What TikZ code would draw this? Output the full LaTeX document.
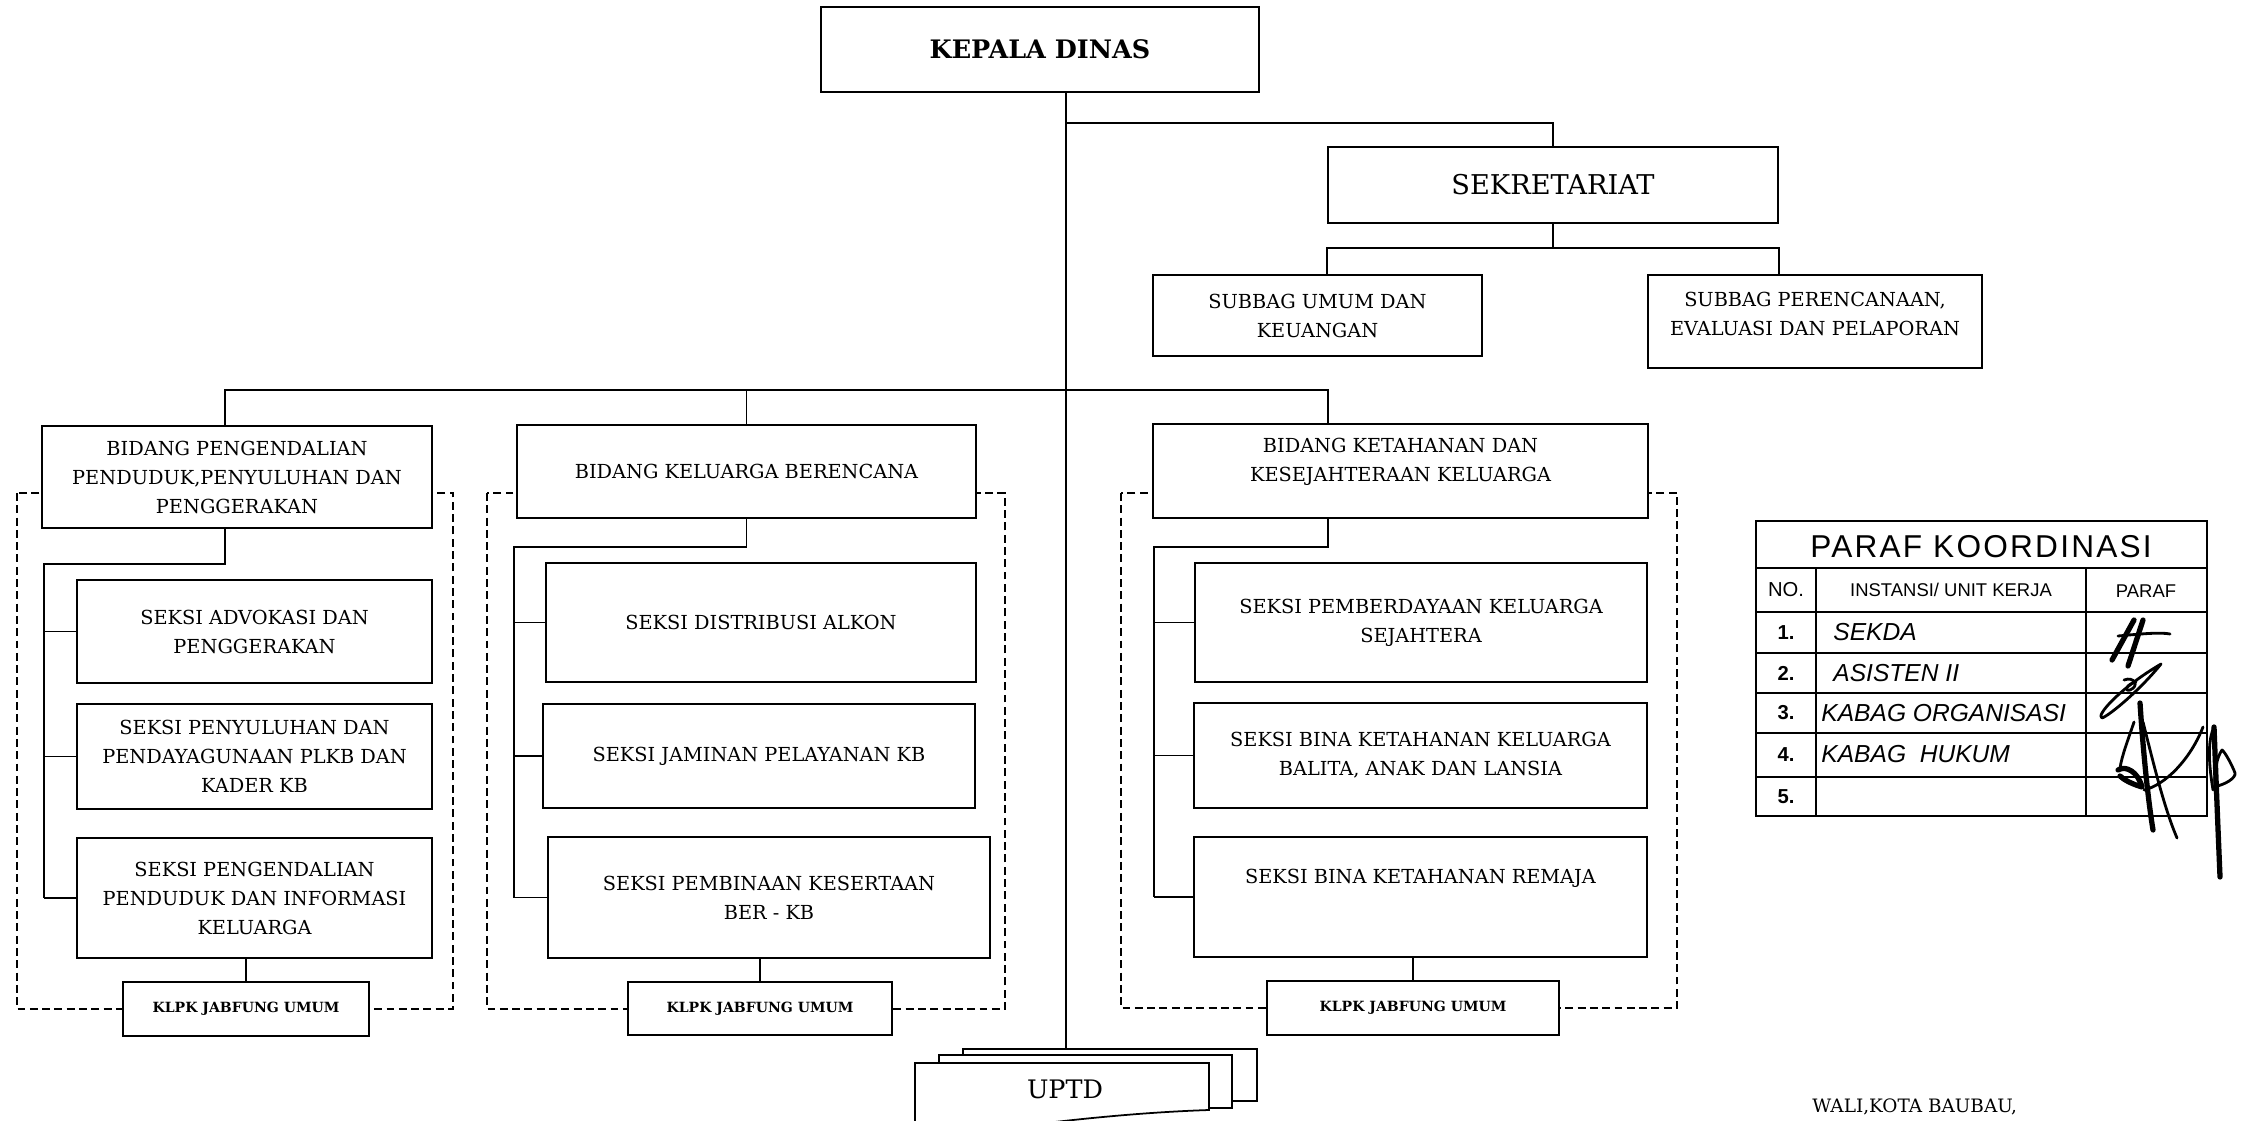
\documentclass[tikz,border=0pt]{standalone}
\usepackage{fontspec}
\setmainfont{DejaVu Serif}
\newfontfamily\tabfont{Liberation Sans}
\newfontfamily\titfont[LetterSpace=7]{Liberation Sans}
\usetikzlibrary{calc}
\tikzset{
  wh/.style 2 args={minimum width=#1*0.02cm,minimum height=#2*0.02cm},
  box/.style={draw,line width=1.2pt,fill=white,align=center,inner sep=0pt,font=\fontsize{11}{16.5}\selectfont},
  txt/.style={align=center,inner sep=0pt,font=\fontsize{11}{16.5}\selectfont},
  klpk/.style={box,font=\bfseries\fontsize{8}{10}\selectfont},
  conn/.style={line width=1.1pt},
  grp/.style={line width=0.9pt,dash pattern=on 4.5pt off 2.5pt},
  sheet/.style={draw,line width=1pt,fill=white},
  tab/.style={line width=0.9pt},
  tabtxt/.style={inner sep=0pt,font=\tabfont\fontsize{10.5}{12}\selectfont},
  numtxt/.style={inner sep=0pt,font=\tabfont\bfseries\fontsize{11.5}{13}\selectfont},
  hand/.style={anchor=west,inner sep=0pt,font=\tabfont\itshape\fontsize{14}{16}\selectfont},
  sig/.style={line width=1.6pt,line cap=round,line join=round},
  sigb/.style={line width=3pt,line cap=round,line join=round}
}
\begin{document}
\begin{tikzpicture}[x=0.02cm,y=-0.02cm]
\fill[white] (0,0) rectangle (2250,1121);
\useasboundingbox (0,0) rectangle (2250,1121);

% dashed group frames
\draw[grp] (17,493) rectangle (453,1009);
\draw[grp] (487,493) rectangle (1005,1009);
\draw[grp] (1121,493) rectangle (1677,1008);

% top
\node[box,wh={438}{85},font=\bfseries\fontsize{14.5}{17}\selectfont] (kepala) at (1040,49.5) {KEPALA DINAS};
\node[box,wh={450}{76},font=\fontsize{15.5}{18}\selectfont] (sek) at (1553,185) {SEKRETARIAT};
\node[box,wh={329}{81}] (sub1) at (1317.5,315.5) {SUBBAG UMUM DAN\\KEUANGAN};
\node[box,wh={334}{93}] (sub2) at (1815,321.5) {};
\node[txt] (sub2t) at ($(sub2)+(0,-8)$) {SUBBAG PERENCANAAN,\\EVALUASI DAN PELAPORAN};

% bidang
\node[box,wh={390}{102}] (bid1) at (237,477) {BIDANG PENGENDALIAN\\PENDUDUK,PENYULUHAN DAN\\PENGGERAKAN};
\node[box,wh={459}{93}] (bid2) at (746.5,471.5) {BIDANG KELUARGA BERENCANA};
\node[box,wh={495}{94}] (bid3) at (1400.5,471) {};
\node[txt] (bid3t) at ($(bid3)+(0,-9)$) {BIDANG KETAHANAN DAN\\KESEJAHTERAAN KELUARGA};

% seksi
\node[box,wh={355}{103}] (s11) at (254.5,631.5) {SEKSI ADVOKASI DAN\\PENGGERAKAN};
\node[box,wh={355}{105}] (s12) at (254.5,756.5) {SEKSI PENYULUHAN DAN\\PENDAYAGUNAAN PLKB DAN\\KADER KB};
\node[box,wh={355}{120}] (s13) at (254.5,898) {SEKSI PENGENDALIAN\\PENDUDUK DAN INFORMASI\\KELUARGA};
\node[box,wh={430}{119}] (s21) at (761,622.5) {SEKSI DISTRIBUSI ALKON};
\node[box,wh={432}{104}] (s22) at (759,756) {SEKSI JAMINAN PELAYANAN KB};
\node[box,wh={442}{121}] (s23) at (769,897.5) {SEKSI PEMBINAAN KESERTAAN\\BER - KB};
\node[box,wh={452}{119}] (s31) at (1421,622.5) {SEKSI PEMBERDAYAAN KELUARGA\\SEJAHTERA};
\node[box,wh={453}{105}] (s32) at (1420.5,755.5) {SEKSI BINA KETAHANAN KELUARGA\\BALITA, ANAK DAN LANSIA};
\node[box,wh={453}{120}] (s33) at (1420.5,897) {};
\node[txt] (s33t) at ($(s33)+(0,-19)$) {SEKSI BINA KETAHANAN REMAJA};

% klpk
\node[klpk,wh={246}{54}] (k1) at (246,1009) {KLPK JABFUNG UMUM};
\node[klpk,wh={264}{53}] (k2) at (760,1008.5) {KLPK JABFUNG UMUM};
\node[klpk,wh={292}{54}] (k3) at (1413,1008) {KLPK JABFUNG UMUM};

% UPTD stacked sheets
\node[sheet,wh={294}{52}] (uptdB) at (1110,1075) {};
\node[sheet,wh={293}{53}] (uptdM) at (1085.5,1081.5) {};
\path[sheet] (915,1140) -- (915,1063) -- (1209,1063) -- (1209,1110)
  .. controls (1120,1113) and (1030,1124) .. (915,1140) -- cycle;
\node[font=\fontsize{14.5}{17}\selectfont,inner sep=0pt] (uptd) at (1065,1089) {UPTD};

% connectors
\coordinate (spine) at (1066,0);
\coordinate (j1) at (1066,123);
\coordinate (j2) at (0,248);
\coordinate (b1) at (225,390);
\coordinate (b3) at (1328,390);
\coordinate (r1) at (44,564);
\coordinate (r2) at (514,547);
\coordinate (r3) at (1154,547);

\draw[conn,line width=0.7pt] (kepala.south -| spine) -- (uptdB.north -| spine);
\draw[conn] (j1) -| (sek.north);
\draw[conn] (sek.south) -- (sek.south |- j2);
\draw[conn] (sub1.north -| sek.west) |- (j2 -| sek.east) -- (sub2.north -| sek.east);

\draw[conn] (bid1.north -| b1) -- (b1) -- (b3) -- (bid3.north -| b3);
\draw[conn] (bid2.north) -- (bid2.north |- b1);

\draw[conn] (bid1.south -| b1) |- (r1) -- (r1 |- s13.west);
\foreach \s in {s11,s12,s13} \draw[conn] (r1 |- \s.west) -- (\s.west);
\draw[conn] (bid2.south) |- (r2) -- (r2 |- s23.west);
\foreach \s in {s21,s22,s23} \draw[conn] (r2 |- \s.west) -- (\s.west);
\draw[conn] (bid3.south -| b3) |- (r3) -- (r3 |- s33.west);
\foreach \s in {s31,s32,s33} \draw[conn] (r3 |- \s.west) -- (\s.west);

\draw[conn] (k1.north) -- (k1.north |- s13.south);
\draw[conn] (k2.north) -- (k2.north |- s23.south);
\draw[conn] (k3.north) -- (k3.north |- s33.south);

% paraf koordinasi table
\draw[tab] (1756,521) rectangle (2207,816);
\foreach \y in {568,612,653,693,733,777} \draw[tab] (1756,\y) -- (2207,\y);
\draw[tab] (1816,568) -- (1816,816);
\draw[tab] (2086,568) -- (2086,816);
\node[inner sep=0pt,font=\titfont\fontsize{18}{20}\selectfont] (ptitle) at (1981,547) {PARAF KOORDINASI};
\node[numtxt,font=\tabfont\fontsize{11.5}{13}\selectfont] (hno) at (1786,590) {NO.};
\node[tabtxt] (hins) at (1951,590) {INSTANSI/ UNIT KERJA};
\node[tabtxt] (hpar) at (2146,591) {PARAF};
\node[numtxt] (n1) at (1786,632.5) {1.};
\node[numtxt] (n2) at (1786,673) {2.};
\node[numtxt] (n3) at (1786,713) {3.};
\node[numtxt] (n4) at (1786,755) {4.};
\node[numtxt] (n5) at (1786,796.5) {5.};
\node[hand] (h1) at (1833,632) {SEKDA};
\node[hand] (h2) at (1833,673) {ASISTEN II};
\node[hand] (h3) at (1821,713) {KABAG ORGANISASI};
\node[hand] (h4) at (1821,754) {KABAG \ HUKUM};

% signature
\draw[sigb] (2134,620) -- (2112,660);
\draw[sigb] (2143,620) -- (2128,666);
\draw[sig] (2118,636) .. controls (2140,634) and (2160,632) .. (2170,634);
\draw[sig] (2161,664) .. controls (2140,690) and (2110,715) .. (2102,718)
  .. controls (2095,716) and (2120,688) .. (2161,664);
\draw[sig] (2124,680) .. controls (2134,676) and (2140,686) .. (2130,690)
  .. controls (2124,692) and (2126,684) .. (2136,682);
\draw[sigb] (2140,703) .. controls (2143,750) and (2148,800) .. (2153,830);
\draw[sig] (2143,722) .. controls (2155,770) and (2165,810) .. (2177,838);
\draw[sig] (2134,722) .. controls (2128,740) and (2122,755) .. (2120,768);
\draw[sigb] (2118,770) .. controls (2126,765) and (2138,772) .. (2142,787)
  .. controls (2132,784) and (2124,780) .. (2120,776);
\draw[sig] (2144,790) .. controls (2165,785) and (2190,760) .. (2203,727);
\draw[sigb] (2214,727) .. controls (2216,780) and (2218,830) .. (2220,877);
\draw[sig] (2214,727) .. controls (2208,740) and (2208,760) .. (2213,790);
\draw[sig] (2213,787) .. controls (2225,785) and (2236,778) .. (2235,773)
  .. controls (2232,765) and (2225,752) .. (2222,750)
  .. controls (2216,758) and (2214,775) .. (2215,787);

% signature line text
\node[anchor=base west,inner sep=0pt,font=\fontsize{10.5}{12}\selectfont] (wali) at (1812,1112) {WALI,KOTA BAUBAU,};
\end{tikzpicture}
\end{document}
